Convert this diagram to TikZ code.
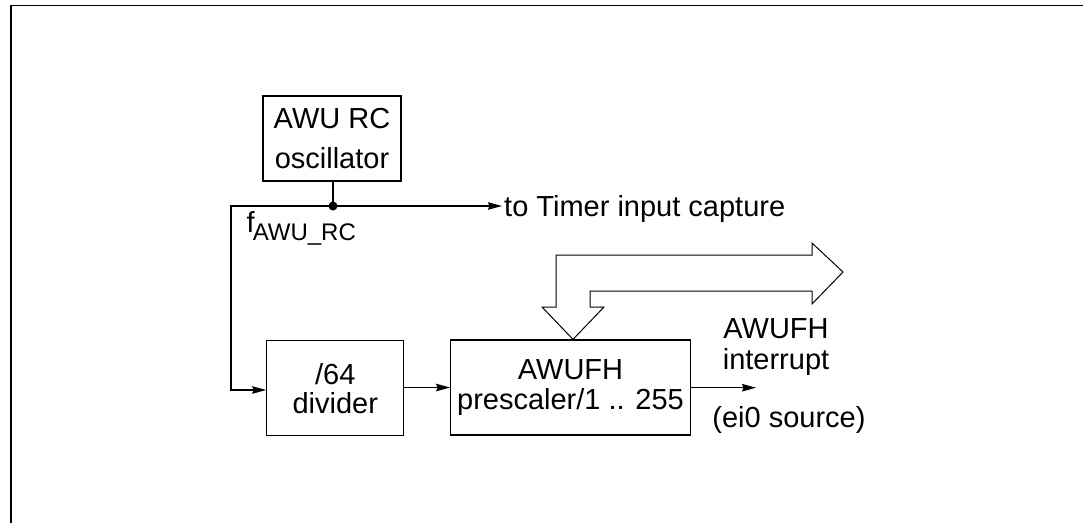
\documentclass[tikz,border=0pt]{standalone}
\usepackage{fontspec}
\setmainfont{Liberation Sans}
\usetikzlibrary{arrows.meta}
\tikzset{
  box/.style={draw, line width=1.3pt, inner sep=0pt, align=center},
  conn/.style={line width=1.25pt},
  arr/.style={conn, -{Stealth[length=14pt, width=7.5pt, inset=1.5pt]}},
  lbl/.style={inner sep=0pt, align=center},
  hollow/.style={draw, line width=1pt, line join=miter},
  frame/.style={line width=1.7pt}
}
\newcommand{\bigfont}[1]{\fontsize{29}{#1}\selectfont}
\begin{document}
\begin{tikzpicture}[x=1pt, y=-1pt]
\useasboundingbox (0,0) rectangle (1083,522);
% frame
\draw[frame] (11,530) -- (11,5.5) -- (1090,5.5);
% blocks
\node[box, minimum width=138pt, minimum height=85pt, font=\bigfont{40}] (osc) at (332,138.5) {AWU RC\\oscillator};
\node[box, minimum width=137pt, minimum height=95pt, font=\bigfont{29}] (div) at (335.3,388.2) {/64\\divider};
\node[box, minimum width=239.5pt, minimum height=95pt, font=\bigfont{29.5}] (pre) at (570.5,387.5) {AWUFH\\prescaler/1 .. 255};
% junction
\coordinate (j) at (333,206);
\coordinate (lc) at (231,206);
\coordinate (ld) at (231,390);
\fill (j) circle (4.5pt);
\draw[conn] (osc.south -| j) -- (j);
% timer
\node[lbl, anchor=base west, font=\bigfont{29}] (tmr) at (504,216.5) {to Timer input capture};
\draw[arr] (j) -- ([xshift=-2pt]tmr.west |- j);
% f label
\node[lbl, anchor=base west, font=\bigfont{29}] (flbl) at (246.5,232) {f\kern-2pt\raisebox{-8.5pt}{\fontsize{24}{24}\selectfont AWU\_RC}};
% path to divider
\draw[arr] (j) -- (lc) -- (ld) -- (div.west |- ld);
% divider to prescaler
\draw[arr] (div.east |- 0,387.5) -- (pre.west |- 0,387.5);
% output
\coordinate (oend) at (756,387.7);
\draw[arr] (pre.east |- oend) -- (oend);
\node[lbl, font=\bigfont{31}] (intl) at (776,347) {AWUFH\\interrupt};
\node[lbl, anchor=base, font=\bigfont{29}] (src) at (789,427) {(ei0 source)};
% hollow bus arrow
\draw[hollow] (556,307) -- (556,255) -- (812,255) -- (812,243) -- (843,272) -- (812,304) -- (812,291) -- (590,291) -- (590,307) -- (604,307) -- (pre.north -| 573,0) -- (542,307) -- cycle;
\end{tikzpicture}
\end{document}
